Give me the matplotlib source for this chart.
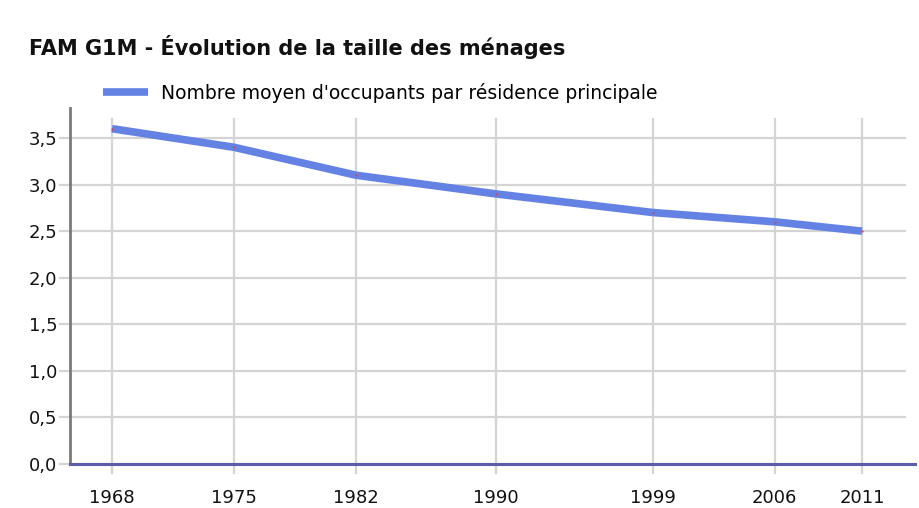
import matplotlib.pyplot as plt
from matplotlib.ticker import FuncFormatter

# data
years = [1968, 1975, 1982, 1990, 1999, 2006, 2011]
occupants = [3.6, 3.4, 3.1, 2.9, 2.7, 2.6, 2.5]
y_ticks = [0.0, 0.5, 1.0, 1.5, 2.0, 2.5, 3.0, 3.5]
title = "FAM G1M - Évolution de la taille des ménages"
series_label = "Nombre moyen d'occupants par résidence principale"

plt.rcParams['font.family'] = ['DejaVu Sans']

fig = plt.figure(figsize=(9.2, 5.08), dpi=100)
ax = fig.add_axes([70 / 920, 1 - 464 / 508, 845 / 920, 356 / 508])

ax.set_xlim(1965.59, 2014.04)
ax.set_ylim(0, 3.822)

# grid lines drawn by hand so they can stick out past the axes
for yv in y_ticks:
    ax.axhline(yv, xmin=-0.012, xmax=0.988, color='#d4d4d4', lw=1.6,
               clip_on=False, zorder=0)
for xv in years:
    ax.axvline(xv, ymin=-0.025, ymax=0.969, color='#d4d4d4', lw=1.6,
               clip_on=False, zorder=0)

line, = ax.plot(years, occupants, color='#6482e4', lw=5.5,
                solid_capstyle='butt', label=series_label, zorder=3)
ax.plot(years, occupants, 'o', color='#cc4466', ms=1.6, mec='none', zorder=4)

ax.set_xticks(years)
ax.set_yticks(y_ticks)
ax.yaxis.set_major_formatter(FuncFormatter(lambda v, p: f"{v:.1f}".replace('.', ',')))
ax.tick_params(axis='both', length=0, labelsize=13, colors='#111111')
ax.tick_params(axis='y', pad=9)
ax.tick_params(axis='x', pad=18)

for s in ['top', 'right']:
    ax.spines[s].set_visible(False)
ax.spines['left'].set_color('#7a7a7a')
ax.spines['left'].set_linewidth(2)
ax.spines['bottom'].set_color('#5c5caa')
ax.spines['bottom'].set_linewidth(2.2)
ax.spines['bottom'].set_zorder(5)

fig.text(29 / 920, 1 - 47 / 508, title, fontsize=15, fontweight='bold',
         va='center', ha='left', color='#111111')

fig.legend(handles=[line], loc='center left', bbox_to_anchor=(103 / 920, 1 - 93 / 508),
           frameon=False, fontsize=13.5, handlelength=2.4, handletextpad=0.7,
           borderaxespad=0, borderpad=0)

fig.savefig('out.png', dpi=100)
